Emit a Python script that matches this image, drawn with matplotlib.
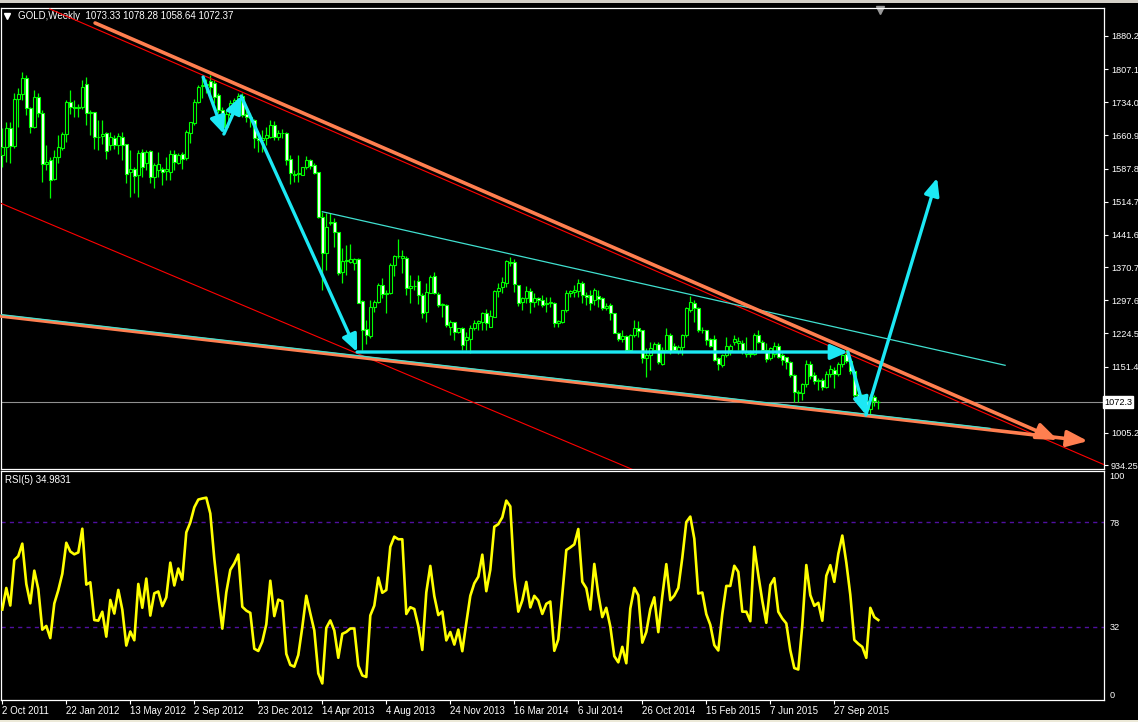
import matplotlib
matplotlib.use('Agg')
import matplotlib.pyplot as plt
from matplotlib.patches import Rectangle
from matplotlib.lines import Line2D
import numpy as np

plt.rcParams['font.family'] = ['Liberation Sans', 'DejaVu Sans']
FS = 6.6

# ---------------- data (weekly GOLD candles, bar index 0 = week of 2 Oct 2011) ----------------
opens = [1618, 1636, 1677, 1638, 1741, 1752, 1787, 1721, 1680, 1745,
         1710, 1597, 1607, 1565, 1613, 1633, 1664, 1735, 1724, 1721,
         1724, 1774, 1710, 1712, 1658, 1660, 1667, 1640, 1655, 1640,
         1658, 1641, 1580, 1588, 1574, 1624, 1600, 1627, 1570, 1585,
         1588, 1583, 1581, 1621, 1601, 1619, 1612, 1667, 1688, 1734,
         1770, 1772, 1780, 1777, 1751, 1717, 1680, 1706, 1733, 1735,
         1748, 1709, 1702, 1695, 1655, 1651, 1655, 1658, 1684, 1658,
         1667, 1667, 1609, 1577, 1575, 1574, 1592, 1607, 1596, 1581,
         1480, 1401, 1467, 1469, 1447, 1360, 1385, 1381, 1380, 1389,
         1296, 1234, 1219, 1282, 1294, 1331, 1311, 1313, 1375, 1396,
         1390, 1390, 1324, 1330, 1341, 1309, 1272, 1314, 1350, 1311,
         1287, 1287, 1239, 1249, 1228, 1236, 1210, 1211, 1236, 1247,
         1250, 1270, 1239, 1261, 1318, 1327, 1335, 1382, 1382, 1331,
         1293, 1302, 1319, 1293, 1302, 1298, 1290, 1291, 1292, 1247,
         1250, 1275, 1314, 1316, 1318, 1336, 1309, 1309, 1298, 1307,
         1302, 1280, 1286, 1269, 1226, 1212, 1219, 1188, 1221, 1236,
         1232, 1170, 1177, 1188, 1201, 1157, 1188, 1221, 1196, 1186,
         1195, 1221, 1276, 1291, 1280, 1232, 1232, 1211, 1211, 1170,
         1155, 1177, 1188, 1206, 1203, 1204, 1180, 1181, 1180, 1222,
         1206, 1188, 1170, 1180, 1197, 1177, 1172, 1162, 1133, 1096,
         1092, 1113, 1158, 1133, 1120, 1122, 1107, 1136, 1144, 1135,
         1157, 1178, 1163, 1142, 1090, 1081, 1076, 1057, 1084, 1073.33]
highs = [1677, 1691, 1691, 1754, 1765, 1800, 1794, 1724, 1761, 1754,
         1717, 1640, 1614, 1628, 1662, 1669, 1739, 1761, 1739, 1731,
         1783, 1790, 1717, 1713, 1695, 1695, 1669, 1669, 1662, 1666,
         1669, 1641, 1629, 1592, 1629, 1632, 1629, 1629, 1600, 1625,
         1592, 1614, 1629, 1629, 1622, 1625, 1673, 1691, 1741, 1772,
         1790, 1786, 1794, 1783, 1754, 1724, 1717, 1739, 1744, 1754,
         1754, 1717, 1710, 1698, 1667, 1673, 1680, 1695, 1693, 1673,
         1675, 1669, 1618, 1585, 1618, 1592, 1616, 1610, 1600, 1581,
         1493, 1489, 1489, 1478, 1449, 1412, 1419, 1421, 1391, 1390,
         1299, 1254, 1298, 1298, 1336, 1346, 1320, 1379, 1397, 1432,
         1408, 1394, 1353, 1343, 1353, 1313, 1335, 1353, 1360, 1316,
         1292, 1289, 1254, 1250, 1237, 1238, 1228, 1243, 1254, 1255,
         1272, 1279, 1276, 1320, 1335, 1348, 1386, 1392, 1388, 1332,
         1305, 1328, 1324, 1313, 1305, 1309, 1305, 1305, 1294, 1254,
         1276, 1320, 1320, 1332, 1344, 1339, 1316, 1320, 1324, 1320,
         1304, 1291, 1291, 1270, 1228, 1232, 1222, 1223, 1254, 1252,
         1233, 1192, 1206, 1206, 1206, 1195, 1236, 1225, 1203, 1199,
         1223, 1283, 1307, 1298, 1283, 1238, 1233, 1214, 1221, 1173,
         1180, 1217, 1202, 1221, 1217, 1210, 1217, 1188, 1225, 1232,
         1210, 1203, 1195, 1206, 1203, 1181, 1173, 1164, 1135, 1100,
         1114, 1166, 1163, 1140, 1126, 1125, 1142, 1155, 1151, 1162,
         1180, 1191, 1168, 1143, 1095, 1090, 1080, 1090, 1088, 1078.28]
lows = [1592, 1603, 1600, 1633, 1680, 1739, 1706, 1666, 1678, 1702,
        1559, 1585, 1522, 1562, 1600, 1629, 1647, 1709, 1702, 1702,
        1720, 1684, 1662, 1632, 1629, 1643, 1610, 1629, 1632, 1621,
        1607, 1555, 1526, 1533, 1526, 1570, 1585, 1555, 1544, 1570,
        1552, 1563, 1563, 1585, 1598, 1588, 1607, 1644, 1684, 1732,
        1743, 1755, 1753, 1732, 1710, 1673, 1673, 1700, 1720, 1731,
        1702, 1691, 1680, 1633, 1625, 1625, 1640, 1655, 1651, 1651,
        1655, 1596, 1553, 1559, 1559, 1573, 1588, 1588, 1577, 1478,
        1320, 1364, 1463, 1416, 1353, 1335, 1353, 1379, 1364, 1291,
        1188, 1202, 1214, 1272, 1291, 1302, 1270, 1311, 1350, 1390,
        1357, 1309, 1291, 1320, 1290, 1258, 1250, 1313, 1311, 1283,
        1261, 1239, 1221, 1210, 1226, 1188, 1188, 1181, 1232, 1232,
        1232, 1232, 1238, 1261, 1305, 1313, 1327, 1372, 1316, 1285,
        1275, 1292, 1269, 1283, 1287, 1283, 1272, 1283, 1239, 1238,
        1247, 1272, 1305, 1305, 1305, 1291, 1287, 1276, 1287, 1283,
        1276, 1276, 1254, 1225, 1208, 1206, 1184, 1183, 1217, 1217,
        1159, 1129, 1144, 1184, 1158, 1155, 1184, 1180, 1184, 1180,
        1177, 1217, 1272, 1250, 1228, 1225, 1199, 1195, 1164, 1144,
        1151, 1173, 1177, 1199, 1188, 1180, 1173, 1173, 1177, 1203,
        1184, 1162, 1166, 1173, 1170, 1155, 1147, 1129, 1074, 1074,
        1078, 1107, 1124, 1113, 1100, 1100, 1103, 1129, 1103, 1131,
        1151, 1160, 1135, 1085, 1072, 1062, 1052, 1046, 1065, 1058.64]
closes = [1636, 1677, 1638, 1741, 1752, 1787, 1721, 1680, 1745, 1710,
          1597, 1603, 1563, 1614, 1636, 1664, 1735, 1724, 1721, 1724,
          1768, 1710, 1713, 1658, 1657, 1664, 1627, 1657, 1640, 1660,
          1639, 1577, 1588, 1572, 1622, 1591, 1624, 1570, 1596, 1598,
          1581, 1588, 1621, 1602, 1618, 1610, 1669, 1690, 1734, 1767,
          1772, 1775, 1768, 1745, 1718, 1680, 1709, 1732, 1739, 1748,
          1706, 1702, 1700, 1655, 1651, 1655, 1662, 1684, 1658, 1667,
          1666, 1607, 1579, 1574, 1579, 1591, 1607, 1594, 1579, 1480,
          1401, 1460, 1469, 1447, 1357, 1384, 1386, 1389, 1389, 1292,
          1232, 1221, 1282, 1294, 1331, 1311, 1314, 1375, 1396, 1394,
          1394, 1324, 1330, 1328, 1309, 1270, 1316, 1348, 1314, 1287,
          1290, 1243, 1249, 1227, 1236, 1199, 1217, 1237, 1247, 1252,
          1270, 1247, 1263, 1319, 1324, 1337, 1383, 1380, 1333, 1292,
          1302, 1319, 1293, 1302, 1298, 1287, 1292, 1293, 1247, 1252,
          1275, 1314, 1317, 1320, 1336, 1309, 1305, 1291, 1320, 1300,
          1280, 1285, 1269, 1226, 1212, 1219, 1188, 1220, 1236, 1230,
          1170, 1177, 1192, 1200, 1162, 1188, 1220, 1184, 1188, 1194,
          1221, 1280, 1294, 1280, 1232, 1233, 1210, 1197, 1166, 1156,
          1177, 1197, 1197, 1211, 1208, 1184, 1184, 1178, 1222, 1206,
          1188, 1168, 1192, 1197, 1172, 1166, 1162, 1133, 1096, 1092,
          1112, 1158, 1131, 1120, 1122, 1106, 1136, 1145, 1135, 1157,
          1177, 1163, 1142, 1088, 1081, 1076, 1057, 1084, 1075, 1072.37]
# weekly closes before the first drawn bar, only used to warm up the RSI
warmup_closes = [1663, 1745, 1852, 1829, 1877, 1856, 1814, 1657, 1624]

date_ticks = [0, 16, 32, 48, 64, 80, 96, 112, 128, 144, 160, 176, 192, 208]
date_labels = ['2 Oct 2011', '22 Jan 2012', '13 May 2012', '2 Sep 2012', '23 Dec 2012',
               '14 Apr 2013', '4 Aug 2013', '24 Nov 2013', '16 Mar 2014', '6 Jul 2014',
               '26 Oct 2014', '15 Feb 2015', '7 Jun 2015', '27 Sep 2015']
price_ticks = [1880.2, 1807.1, 1734.0, 1660.9, 1587.8, 1514.7, 1441.6, 1370.7,
               1297.6, 1224.5, 1151.4, 1005.2, 934.25]
price_labels = ['1880.2', '1807.1', '1734.0', '1660.9', '1587.8', '1514.7', '1441.6',
                '1370.7', '1297.6', '1224.5', '1151.4', '1005.2', '934.25']
rsi_period = 5
rsi_levels = [78, 32]
rsi_ticks = [100, 78, 32, 0]
header_text = 'GOLD,Weekly  1073.33 1078.28 1058.64 1072.37'
rsi_text = 'RSI(5) 34.9831'
price_box_text = '1072.3'

# drawn objects: (bar, price) end points
upper_orange = [(23.2, 1908.9), (263.9, 989.4)]
lower_orange = [(-0.3, 1262.6), (271.4, 987.0)]
upper_red = [(11.9, 1939.7), (275.4, 935.1)]
lower_red = [(-0.3, 1511.1), (159.4, 917.5)]
lower_cyan_thin = [(-0.3, 1265.9), (246.9, 1015.0)]
upper_cyan_thin = [(80.0, 1492.8), (250.7, 1154.1)]
cyan_path = [(50.2, 1789.8), (55.4, 1664.1), (59.7, 1747.9), (88.7, 1183.4),
             (211.4, 1183.4), (215.9, 1044.5), (233.7, 1567.1)]

# ---------------- RSI (MT4 style Wilder smoothing) ----------------
allc = np.array(warmup_closes + closes, dtype=float)
diff = np.diff(allc)
pos = np.where(diff > 0, diff, 0.0)
neg = np.where(diff < 0, -diff, 0.0)
ap = pos[:rsi_period].mean()
an = neg[:rsi_period].mean()
rsi_all = [np.nan] * rsi_period
rsi_all.append(100 - 100 / (1 + ap / an))
for k in range(rsi_period, len(diff)):
    ap = (ap * (rsi_period - 1) + pos[k]) / rsi_period
    an = (an * (rsi_period - 1) + neg[k]) / rsi_period
    rsi_all.append(100.0 if an == 0 else 100 - 100 / (1 + ap / an))
rsi = np.array(rsi_all[len(warmup_closes):])

# ---------------- figure ----------------
W, H = 1138, 722
fig = plt.figure(figsize=(W / 100, H / 100), dpi=100, facecolor='black')

def fx(px):
    return px / W

def fy(py):
    return 1 - py / H

ax = fig.add_axes([fx(1), fy(469), fx(1104) - fx(1), fy(8) - fy(469)], facecolor='black')
ax2 = fig.add_axes([fx(1), fy(700), fx(1104) - fx(1), fy(471) - fy(700)], facecolor='black')

LIME = '#00FF00'
n = len(closes)
x = np.arange(n)
o = np.array(opens); c = np.array(closes); h = np.array(highs); l = np.array(lows)

ax.vlines(x, l, h, color=LIME, lw=0.9, zorder=3)
bear = c < o
bull = ~bear
bw = 0.62
ax.bar(x[bull], (c - o)[bull], bottom=o[bull], width=bw, color='black',
       edgecolor=LIME, linewidth=0.8, zorder=4)
ax.bar(x[bear], (o - c)[bear], bottom=c[bear], width=bw, color='white',
       edgecolor=LIME, linewidth=0.8, zorder=4)

# current price line
ax.axhline(closes[-1], color='#909090', lw=0.8, zorder=2)

def seg(pts, **kw):
    (x0, y0), (x1, y1) = pts
    ax.add_line(Line2D([x0, x1], [y0, y1], **kw))

RED = '#FF0000'
ORANGE = '#FF7F50'
CYAN = '#1CE8F4'
TURQ = '#40E0D0'
seg(upper_red, color=RED, lw=0.8, zorder=5)
seg(lower_red, color=RED, lw=0.8, zorder=5)
seg(upper_cyan_thin, color=TURQ, lw=0.9, zorder=5)

for pts in (upper_orange, lower_orange):
    ax.annotate('', xy=pts[1], xytext=pts[0],
                arrowprops=dict(arrowstyle='-|>,head_length=0.9,head_width=0.35',
                                color=ORANGE, lw=2.6, mutation_scale=14,
                                shrinkA=0, shrinkB=0), zorder=6)
seg(lower_cyan_thin, color=TURQ, lw=0.9, zorder=6)

for a, b in zip(cyan_path[:-1], cyan_path[1:]):
    ax.annotate('', xy=b, xytext=a,
                arrowprops=dict(arrowstyle='-|>,head_length=0.8,head_width=0.35',
                                color=CYAN, lw=2.4, mutation_scale=13,
                                shrinkA=0, shrinkB=0), zorder=7)

ax.set_xlim(-0.325, 275.425)
ax.set_ylim(925.43, 1941.94)
ax.set_xticks([])
ax.yaxis.tick_right()
ax.set_yticks(price_ticks)
ax.set_yticklabels(price_labels)
ax.tick_params(axis='y', colors='white', labelcolor='white', length=3, width=0.8,
               labelsize=FS, pad=2)
for s in ax.spines.values():
    s.set_color('white'); s.set_linewidth(0.9)

ax.text(1.0, closes[-1], price_box_text, transform=ax.get_yaxis_transform(),
        ha='left', va='center', fontsize=FS, color='black',
        bbox=dict(boxstyle='square,pad=0.15', fc='white', ec='white'), zorder=10)
ax.text(fx(17) / (fx(1104) - fx(1)), 0.983, header_text,
        transform=ax.transAxes, ha='left', va='center', fontsize=FS + 0.4, color='white')
ax.plot([0.0055], [0.982], marker='v', color='white', markersize=4,
        transform=ax.transAxes, clip_on=False)
ax.plot([0.797], [0.995], marker='v', color='#9A9A9A', markersize=6,
        transform=ax.transAxes, clip_on=False)

# RSI panel
ax2.plot(x, rsi, color='#FFFF00', lw=1.9, zorder=3)
for lv in rsi_levels:
    ax2.axhline(lv, color='#5010A0', lw=1.0, ls=(0, (3, 3)), zorder=2)
ax2.set_xlim(-0.325, 275.425)
ax2.set_ylim(-0.13, 100.44)
ax2.yaxis.tick_right()
ax2.set_yticks(rsi_ticks)
ax2.set_yticklabels([str(t) for t in rsi_ticks])
ax2.tick_params(axis='y', colors='white', labelcolor='white', length=0, labelsize=FS, pad=4)
lbls = ax2.get_yticklabels()
lbls[0].set_va('top')
lbls[-1].set_va('bottom')
ax2.set_xticks(date_ticks)
ax2.set_xticklabels(date_labels, ha='left')
ax2.tick_params(axis='x', colors='white', labelcolor='white', length=3, width=0.8,
                labelsize=FS + 0.4, pad=1)
for s in ax2.spines.values():
    s.set_color('white'); s.set_linewidth(0.9)
ax2.text(0.004, 0.96, rsi_text, transform=ax2.transAxes, ha='left',
         va='center', fontsize=FS + 0.4, color='white')

# window chrome strips
fig.patches.append(Rectangle((0, fy(3)), 1, 1 - fy(3), transform=fig.transFigure,
                             fc='#D4D0C8', ec='none'))
fig.patches.append(Rectangle((0, 0), 1, fy(719.5), transform=fig.transFigure,
                             fc='#ECE9D8', ec='none'))

fig.savefig('out.png', dpi=100, facecolor='black')
